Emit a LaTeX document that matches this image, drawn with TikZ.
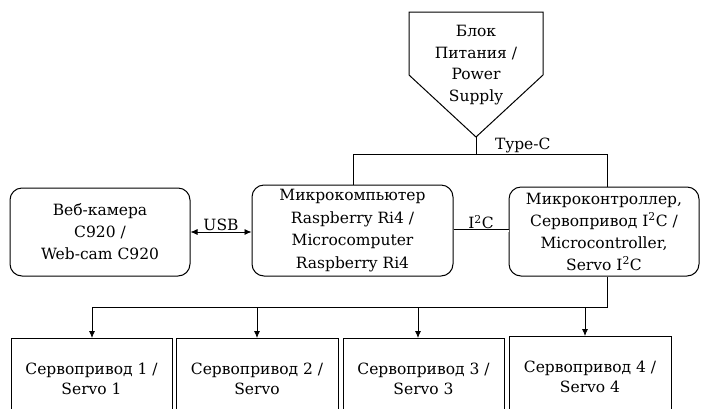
\documentclass[tikz,border=0pt]{standalone}
\usepackage{fontspec}
\setmainfont{DejaVu Serif}
\usetikzlibrary{arrows, arrows.meta, positioning, calc}

\tikzset{
  rbox/.style={draw, line width=1pt, rounded corners=12pt, align=center, inner sep=0pt},
  sbox/.style={draw, line width=1pt, align=center, inner sep=0pt,
               minimum height=80pt, font=\fontsize{15.5}{20}\selectfont},
  link/.style={line width=0.8pt},
}

\begin{document}
\begin{tikzpicture}[x=1pt, y=-1pt, >={Latex[length=7pt,width=6pt]}, font=\fontsize{15.5}{22}\selectfont]

\useasboundingbox (0,0) rectangle (701,408);
\clip (0,0) rectangle (701,408);

% power supply
\draw[line width=1pt] (409,12) -- (543,12) -- (543,75) -- (476,137) -- (409,75) -- cycle;
\node[align=center, font=\fontsize{15.5}{21.5}\selectfont] (psu) at (476,65) {Блок\\Питания /\\Power\\Supply};
\coordinate (psutip) at (476,137);

\node[rbox, minimum width=180pt, minimum height=88pt] (cam) at (100,232)
     {Веб-камера\\C920 /\\Web-cam C920};
\node[rbox, minimum width=201pt, minimum height=91pt, font=\fontsize{15.5}{22.7}\selectfont] (mc) at (352.5,230.5)
     {Микрокомпьютер\\Raspberry Ri4 /\\Microcomputer\\Raspberry Ri4};
\node[rbox, minimum width=190pt, minimum height=89pt] (ctl) at (604,231.5)
     {Микроконтроллер,\\Сервопривод I\textsuperscript{2}C /\\Microcontroller,\\Servo I\textsuperscript{2}C};

% power bus
\coordinate (busL) at (353,154);
\coordinate (busR) at (607,154);
\draw[link] (psutip) -- (psutip |- busL);
\draw[link] (busL |- mc.north) -- (busL) -- (busR) -- (busR |- ctl.north);
\node[anchor=south west, inner sep=1pt] (typec) at (494,154) {Type-C};

\draw[link, <->] (cam.east) -- node[above, inner sep=1pt] (usb) {USB} (cam.east -| mc.west);
\draw[link, double, double distance=2pt] (mc.east) -- node[above, inner sep=1pt] (i2c) {I\textsuperscript{2}C} (mc.east -| ctl.west);

% servos
\node[sbox, minimum width=161pt, anchor=north] (s1) at (91.5,338) {Сервопривод 1 /\\Servo 1};
\node[sbox, minimum width=162pt, anchor=north] (s2) at (257,338) {Сервопривод 2 /\\Servo};
\node[sbox, minimum width=161pt, anchor=north] (s3) at (423.5,338) {Сервопривод 3 /\\Servo 3};
\node[sbox, minimum width=162pt, anchor=north] (s4) at (590,336) {Сервопривод 4 /\\Servo 4};

\coordinate (t1) at (92,307);
\coordinate (t2) at (257,307);
\coordinate (t3) at (418,307);
\coordinate (t4) at (585,307);
\draw[link] (busR |- ctl.south) -- (busR |- t1) -- (t1);
\foreach \i in {1,...,4}
  \draw[link, ->] (t\i) -- (t\i |- s\i.north);

\end{tikzpicture}
\end{document}
